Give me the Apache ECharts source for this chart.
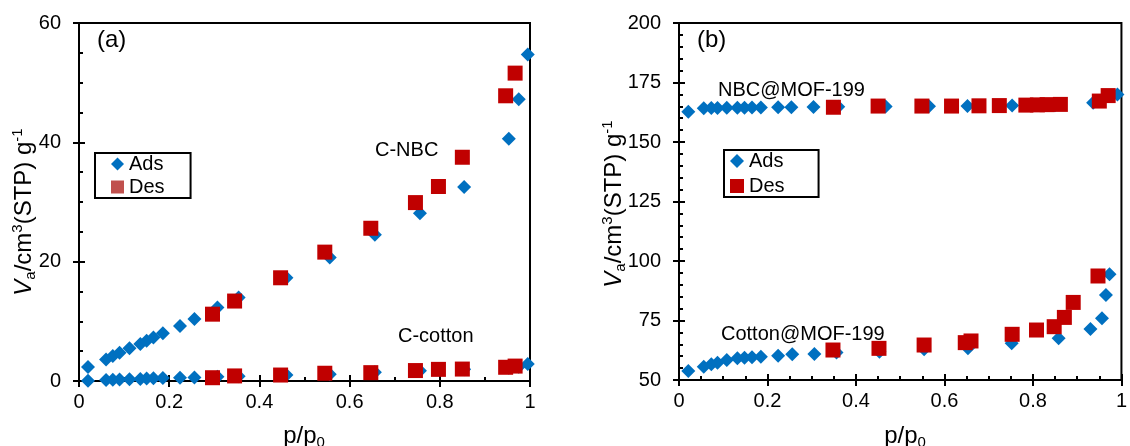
<!DOCTYPE html>
<html><head><meta charset="utf-8">
<script src="https://cdn.jsdelivr.net/npm/echarts@6/dist/echarts.min.js"></script>
<style>html,body{margin:0;padding:0;background:#fff}#c{width:1130px;height:446px}</style>
</head><body><div id="c"></div>
<script>
// ---- data: (a) carbons ----
const aNbcAdsP = [0.02,0.06,0.075,0.09,0.112,0.136,0.15,0.165,0.186,0.224,0.256,0.307,0.354,0.46,0.556,0.656,0.756,0.854,0.953,0.975,0.995];
const aNbcAdsV = [2.35,3.6,4.2,4.75,5.5,6.2,6.75,7.3,8.0,9.2,10.4,12.3,14.0,17.3,20.7,24.5,28.1,32.5,40.6,47.2,54.7];
const aNbcDesP = [0.296,0.345,0.447,0.545,0.647,0.746,0.797,0.85,0.946,0.967];
const aNbcDesV = [11.2,13.4,17.3,21.6,25.6,29.9,32.6,37.5,47.8,51.6];
const aCotAdsP = [0.02,0.06,0.075,0.09,0.112,0.136,0.15,0.165,0.186,0.224,0.256,0.307,0.354,0.46,0.556,0.656,0.756,0.854,0.953,0.975,0.995];
const aCotAdsV = [0.05,0.15,0.2,0.25,0.3,0.35,0.4,0.45,0.5,0.55,0.6,0.7,0.8,1.0,1.15,1.45,1.7,1.95,2.2,2.4,2.85];
const aCotDesP = [0.296,0.345,0.447,0.545,0.647,0.746,0.797,0.85,0.946,0.967];
const aCotDesV = [0.55,0.85,1.0,1.3,1.4,1.75,1.95,2.0,2.3,2.5];
// ---- data: (b) MOF-199 composites ----
const bNbcAdsP = [0.021,0.056,0.073,0.087,0.108,0.132,0.148,0.165,0.185,0.224,0.254,0.304,0.36,0.467,0.565,0.652,0.753,0.85,0.936,0.991];
const bNbcAdsV = [162.7,164.2,164.3,164.3,164.4,164.4,164.4,164.5,164.5,164.6,164.6,164.7,164.8,164.9,165.0,165.1,165.3,165.4,166.5,170.0];
const bNbcDesP = [0.349,0.45,0.549,0.616,0.678,0.724,0.784,0.81,0.832,0.862,0.95,0.97];
const bNbcDesV = [164.6,165.1,165.1,165.1,165.2,165.3,165.5,165.6,165.7,165.8,167.2,169.5];
const bCotAdsP = [0.021,0.056,0.073,0.087,0.108,0.132,0.148,0.165,0.185,0.224,0.256,0.306,0.356,0.453,0.554,0.653,0.752,0.858,0.93,0.956,0.965,0.973];
const bCotAdsV = [53.8,55.6,56.6,57.3,58.4,59.1,59.4,59.6,59.8,60.2,60.8,60.9,61.6,61.9,62.9,63.3,65.4,67.5,71.4,75.9,85.7,94.4];
const bCotDesP = [0.348,0.452,0.554,0.647,0.66,0.753,0.808,0.848,0.871,0.891,0.947];
const bCotDesV = [62.6,63.3,64.7,65.7,66.4,69.2,71.0,72.4,76.3,82.6,93.7];
// ---- labels ----
const legendNames = ['Ads','Des'];
const panelLabels = ['(a)','(b)'];
const curveLabels = ['C-NBC','C-cotton','NBC@MOF-199','Cotton@MOF-199'];

const FONT = 'Liberation Sans, Arial, sans-serif';
const BLUE = '#0070C0', RED = '#C00000';
const zip = (p, v) => p.map((x, i) => [x, v[i]]);

function axes(grid, isX, min, max, interval, minorSplit) {
  const base = {
    gridIndex: grid, type: 'value', min, max, interval,
    position: isX ? 'bottom' : 'left', splitLine: {show: false}
  };
  const main = Object.assign({}, base, {
    axisLine: {show: true, onZero: false, lineStyle: {color: '#000', width: 2}},
    axisTick: {show: true, inside: false, length: 6, lineStyle: {color: '#000', width: 2}},
    minorTick: {show: false},
    axisLabel: {show: true, color: '#000', fontSize: 20, fontFamily: FONT, margin: isX ? 11 : 18,
      formatter: v => String(Math.round(v * 100) / 100)}
  });
  const deco = Object.assign({}, base, {
    axisLine: {show: false, onZero: false},
    axisTick: {show: true, inside: true, length: 6, lineStyle: {color: '#000', width: 2}},
    minorTick: {show: true, splitNumber: minorSplit, length: 4, lineStyle: {color: '#000', width: 2}},
    axisLabel: {show: false}
  });
  return [main, deco];
}

const sym = {Ads: 'diamond', Des: 'rect'};
function sc(name, x, y, data) {
  return {
    type: 'scatter', name, xAxisIndex: x, yAxisIndex: y, data,
    symbol: sym[name], symbolSize: name === 'Ads' ? 14 : 15,
    itemStyle: {color: name === 'Ads' ? BLUE : RED, opacity: 1},
    emphasis: {disabled: true}, animation: false
  };
}

const richY = {
  n: {font: '24px ' + FONT, fontSize: 24, fontFamily: FONT, lineHeight: 28, fill: '#000'},
  i: {font: 'italic 24px ' + FONT, fontSize: 24, fontFamily: FONT, fontStyle: 'italic', lineHeight: 28, fill: '#000'},
  sub: {font: '15px ' + FONT, fontSize: 15, fontFamily: FONT, lineHeight: 16, verticalAlign: 'bottom', fill: '#000'},
  sup: {font: '15px ' + FONT, fontSize: 15, fontFamily: FONT, lineHeight: 15, verticalAlign: 'top', fill: '#000'}
};
function richText(txt, x, y, rot) {
  return {type: 'text', x, y, rotation: rot || 0, silent: true,
    style: {text: txt, rich: richY, fill: '#000', font: '24px ' + FONT,
      textAlign: 'center', textVerticalAlign: 'middle', align: 'center', verticalAlign: 'middle'}};
}
function plain(txt, x, y, size) {
  return {type: 'text', x, y, silent: true,
    style: {text: txt, fill: '#000', font: (size || 20) + 'px ' + FONT,
      textAlign: 'left', textVerticalAlign: 'middle', align: 'left', verticalAlign: 'middle'}};
}
const yName = '{i|V}{sub|a}{n|/cm}{sup|3}{n|(STP) g}{sup|-1}';
const xName = '{n|p/p}{sub|0}';

function legendAt(left, top, desColor, pad, gap, size) {
  return {
    left, top, orient: 'vertical', show: true, selectedMode: false,
    itemWidth: size, itemHeight: size, itemGap: gap,
    padding: pad,
    borderColor: '#000', borderWidth: 2, backgroundColor: '#fff',
    textStyle: {fontSize: 20, fontFamily: FONT, color: '#000', lineHeight: 20},
    data: [
      {name: legendNames[0], icon: 'diamond', itemStyle: {color: BLUE}},
      {name: legendNames[1], icon: 'rect', itemStyle: {color: desColor}}
    ]
  };
}

const [ax0, ax0d] = axes(0, true, 0, 1, 0.2, 2);
const [ay0, ay0d] = axes(0, false, 0, 60, 20, 4);
const [ax1, ax1d] = axes(1, true, 0, 1, 0.2, 4);
const [ay1, ay1d] = axes(1, false, 50, 200, 25, 5);

const option = {
  backgroundColor: '#fff',
  animation: false,
  grid: [
    {left: 79, top: 23, width: 451, height: 358, show: true, borderColor: '#000', borderWidth: 2, backgroundColor: 'transparent'},
    {left: 679, top: 23, width: 451, height: 357, show: true, borderColor: '#000', borderWidth: 2, backgroundColor: 'transparent'}
  ],
  xAxis: [ax0, ax0d, ax1, ax1d],
  yAxis: [ay0, ay0d, ay1, ay1d],
  legend: [
    legendAt(95, 153, '#C0504D', [1, 26, 1, 16], 3, 13),
    legendAt(724, 150, RED, [1, 34, 1, 6], 5, 14)
  ],
  series: [
    sc('Ads', 0, 0, zip(aNbcAdsP, aNbcAdsV)),
    sc('Ads', 0, 0, zip(aCotAdsP, aCotAdsV)),
    sc('Des', 0, 0, zip(aNbcDesP, aNbcDesV)),
    sc('Des', 0, 0, zip(aCotDesP, aCotDesV)),
    sc('Ads', 2, 2, zip(bNbcAdsP, bNbcAdsV)),
    sc('Ads', 2, 2, zip(bCotAdsP, bCotAdsV)),
    sc('Des', 2, 2, zip(bNbcDesP, bNbcDesV)),
    sc('Des', 2, 2, zip(bCotDesP, bCotDesV))
  ],
  graphic: [
    richText(yName, 24, 212, Math.PI / 2),
    richText(yName, 614, 204, Math.PI / 2),
    richText(xName, 304, 436),
    richText(xName, 905, 436),
    plain(panelLabels[0], 97, 40, 24),
    plain(panelLabels[1], 697, 40, 24),
    plain(curveLabels[0], 375, 150, 20),
    plain(curveLabels[1], 398, 336, 20),
    plain(curveLabels[2], 718, 90, 20),
    plain(curveLabels[3], 721, 334, 20)
  ]
};
const chart = echarts.init(document.getElementById('c'), null, {renderer: 'canvas'});
chart.setOption(option);
</script>
</body></html>
